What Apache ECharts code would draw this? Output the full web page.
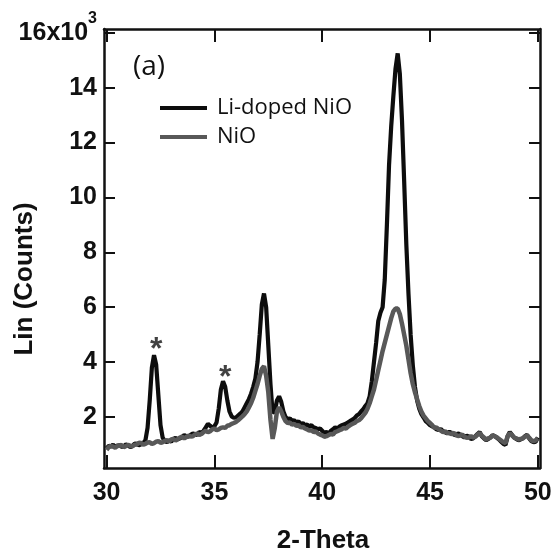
<!DOCTYPE html>
<html><head><meta charset="utf-8">
<script src="https://cdn.jsdelivr.net/npm/echarts@6/dist/echarts.min.js"></script>
<style>html,body{margin:0;padding:0;background:#fff}#c{width:555px;height:552px}</style>
</head><body><div id="c"></div>
<script>
const xTicks = [30, 35, 40, 45, 50];
const yTicks = [2, 4, 6, 8, 10, 12, 14, 16];
const seriesNames = ['Li-doped NiO', 'NiO'];
const liDoped = [
[30.0,0.85],[30.1,0.95],[30.2,0.92],[30.3,0.99],[30.4,0.90],[30.5,0.96],[30.6,0.97],[30.7,0.91],[30.8,0.93],[30.9,1.00],
[31.0,0.96],[31.1,0.90],[31.2,0.94],[31.3,1.03],[31.4,1.02],[31.5,0.97],[31.6,1.00],[31.7,1.05],
[31.8,1.15],[31.9,1.6],[32.0,2.6],[32.1,3.8],[32.2,4.25],[32.3,3.9],[32.4,2.8],[32.5,1.7],[32.6,1.25],[32.7,1.12],
[32.8,1.08],[32.9,1.15],[33.0,1.10],[33.1,1.20],[33.2,1.24],[33.3,1.18],[33.4,1.22],[33.5,1.27],[33.6,1.34],[33.7,1.30],
[33.8,1.28],[33.9,1.35],[34.0,1.40],[34.1,1.38],[34.2,1.34],[34.3,1.45],[34.4,1.42],[34.5,1.50],[34.6,1.62],
[34.7,1.75],[34.8,1.68],[34.9,1.62],[35.0,1.66],[35.1,1.80],[35.2,2.3],[35.3,3.0],[35.4,3.3],[35.5,3.1],[35.6,2.6],
[35.7,2.2],[35.8,2.02],[35.9,1.97],[36.0,1.98],[36.1,2.05],[36.2,2.12],[36.3,2.2],[36.4,2.35],[36.5,2.5],[36.6,2.65],
[36.7,2.85],[36.8,3.1],[36.9,3.4],[37.0,4.0],[37.1,5.0],[37.2,6.1],[37.3,6.5],[37.4,6.0],[37.5,4.6],[37.6,3.2],
[37.7,2.15],[37.8,2.2],[37.9,2.6],[38.0,2.75],[38.1,2.55],[38.2,2.2],[38.3,2.0],[38.4,1.92],[38.5,1.95],[38.6,1.85],
[38.7,1.88],[38.8,1.80],[38.9,1.84],[39.0,1.74],[39.1,1.78],[39.2,1.70],[39.3,1.72],[39.4,1.66],[39.5,1.70],[39.6,1.62],
[39.7,1.60],[39.8,1.55],[39.9,1.58],[40.0,1.50],[40.1,1.42],[40.2,1.45],[40.3,1.40],[40.4,1.50],[40.5,1.55],[40.6,1.62],
[40.7,1.58],[40.8,1.65],[40.9,1.70],[41.0,1.72],[41.1,1.76],[41.2,1.80],[41.3,1.86],[41.4,1.90],[41.5,1.96],[41.6,2.05],
[41.7,2.10],[41.8,2.2],[41.9,2.28],[42.0,2.4],[42.1,2.5],[42.2,2.75],[42.3,3.3],[42.4,4.0],
[42.5,4.7],[42.6,5.5],[42.7,5.8],[42.8,6.0],[42.9,7.0],[43.0,9.0],[43.1,11.2],[43.2,12.6],[43.3,13.7],[43.4,14.7],
[43.5,15.25],[43.6,14.5],[43.7,12.8],[43.8,10.6],[43.9,8.3],[44.0,6.5],[44.1,5.0],[44.2,3.9],[44.3,3.1],[44.4,2.6],
[44.5,2.3],[44.6,2.1],[44.7,1.98],[44.8,1.85],[44.9,1.78],[45.0,1.70],[45.1,1.66],[45.2,1.62],[45.3,1.55],[45.4,1.52],
[45.5,1.56],[45.6,1.48],[45.7,1.44],[45.8,1.40],[45.9,1.46],[46.0,1.42],[46.1,1.36],[46.2,1.33],[46.3,1.40],[46.4,1.36],
[46.5,1.30],[46.6,1.25],[46.7,1.32],[46.8,1.28],[46.9,1.20],[47.0,1.22],[47.1,1.30],[47.2,1.38],[47.3,1.45],[47.4,1.30],
[47.5,1.22],[47.6,1.15],[47.7,1.20],[47.8,1.25],[47.9,1.34],[48.0,1.30],[48.1,1.24],[48.2,1.18],[48.3,1.10],[48.4,1.02],
[48.5,0.98],[48.6,1.30],[48.7,1.45],[48.8,1.35],[48.9,1.25],[49.0,1.20],[49.1,1.15],[49.2,1.18],[49.3,1.22],[49.4,1.30],
[49.5,1.35],[49.6,1.22],[49.7,1.12],[49.8,1.08],[49.9,1.10],[50.0,1.25]
];
const nio = [
[30.0,0.80],[30.1,0.90],[30.2,0.95],[30.3,0.92],[30.4,0.88],[30.5,0.94],[30.6,0.95],[30.7,0.98],[30.8,0.90],[30.9,0.94],
[31.0,0.98],[31.1,0.95],[31.2,0.93],[31.3,0.99],[31.4,1.00],[31.5,1.06],[31.6,1.05],[31.7,0.99],[31.8,1.02],[31.9,1.07],
[32.0,1.08],[32.1,1.02],[32.2,1.05],[32.3,1.10],[32.4,1.12],[32.5,1.06],[32.6,1.08],[32.7,1.13],[32.8,1.15],[32.9,1.11],
[33.0,1.18],[33.1,1.20],[33.2,1.14],[33.3,1.19],[33.4,1.25],[33.5,1.28],[33.6,1.22],[33.7,1.27],[33.8,1.32],[33.9,1.29],
[34.0,1.30],[34.1,1.36],[34.2,1.40],[34.3,1.35],[34.4,1.38],[34.5,1.45],[34.6,1.50],[34.7,1.44],[34.8,1.48],[34.9,1.55],
[35.0,1.58],[35.1,1.52],[35.2,1.55],[35.3,1.60],[35.4,1.62],[35.5,1.60],[35.6,1.68],[35.7,1.70],[35.8,1.75],[35.9,1.78],
[36.0,1.82],[36.1,1.88],[36.2,1.95],[36.3,2.02],[36.4,2.1],[36.5,2.2],[36.6,2.35],[36.7,2.5],[36.8,2.7],[36.9,2.95],
[37.0,3.2],[37.1,3.5],[37.2,3.75],[37.3,3.85],
[37.4,3.5],[37.5,2.9],[37.6,1.9],[37.7,1.2],[37.8,1.6],[37.9,2.2],[38.0,2.35],[38.1,2.2],[38.2,2.0],[38.3,1.85],
[38.4,1.78],[38.5,1.80],[38.6,1.72],[38.7,1.75],[38.8,1.68],[38.9,1.70],[39.0,1.62],[39.1,1.64],[39.2,1.58],[39.3,1.55],
[39.4,1.50],[39.5,1.52],[39.6,1.45],[39.7,1.47],[39.8,1.40],[39.9,1.36],[40.0,1.33],[40.1,1.28],[40.2,1.30],[40.3,1.34],
[40.4,1.38],[40.5,1.36],[40.6,1.45],[40.7,1.48],[40.8,1.52],[40.9,1.55],[41.0,1.60],[41.1,1.58],[41.2,1.65],[41.3,1.70],
[41.4,1.75],[41.5,1.78],[41.6,1.85],[41.7,1.88],[41.8,1.95],[41.9,2.05],[42.0,2.15],[42.1,2.3],[42.2,2.5],[42.3,2.75],
[42.4,3.0],[42.5,3.35],[42.6,3.7],[42.7,4.05],[42.8,4.4],[42.9,4.7],[43.0,5.0],[43.1,5.3],[43.2,5.6],[43.3,5.85],[43.4,5.95],[43.5,5.95],[43.6,5.75],[43.7,5.4],
[43.8,5.0],[43.9,4.6],[44.0,4.1],[44.1,3.6],[44.2,3.2],[44.3,2.9],[44.4,2.65],[44.5,2.4],[44.6,2.2],[44.7,2.05],[44.8,1.95],[44.9,1.85],[45.0,1.78],
[45.1,1.70],[45.2,1.60],[45.3,1.62],[45.4,1.55],[45.5,1.50],[45.6,1.45],[45.7,1.48],[45.8,1.42],[45.9,1.40],[46.0,1.38],
[46.1,1.42],[46.2,1.35],[46.3,1.30],[46.4,1.32],[46.5,1.36],[46.6,1.28],[46.7,1.24],[46.8,1.25],[46.9,1.30],[47.0,1.25],
[47.1,1.28],[47.2,1.35],[47.3,1.42],[47.4,1.32],[47.5,1.25],[47.6,1.18],[47.7,1.22],[47.8,1.25],[47.9,1.32],[48.0,1.30],
[48.1,1.26],[48.2,1.20],[48.3,1.14],[48.4,1.08],[48.5,1.05],[48.6,1.30],[48.7,1.42],[48.8,1.33],[48.9,1.25],[49.0,1.22],
[49.1,1.18],[49.2,1.20],[49.3,1.22],[49.4,1.28],[49.5,1.32],[49.6,1.24],[49.7,1.15],[49.8,1.12],[49.9,1.15],[50.0,1.22]
];
const asterisks = [[32.3, 4.72], [35.5, 3.72]];

const FONT = '"Liberation Sans", Arial, sans-serif';
const chart = echarts.init(document.getElementById('c'), null, {renderer: 'canvas'});
const axisLineStyle = {color: '#111', width: 2.5};
const tickStyle = {color: '#111', width: 2};
function xAxisDef(pos, showLabel) {
  return {
    type: 'value', position: pos, min: 29.88, max: 50.1,
    axisLine: {show: true, onZero: false, lineStyle: axisLineStyle},
    axisTick: {show: true, inside: true, length: 13, lineStyle: tickStyle, customValues: xTicks},
    axisLabel: {show: showLabel, margin: 13, customValues: xTicks, color: '#111',
      fontSize: 25, fontWeight: 'bold', fontFamily: FONT},
    splitLine: {show: false}
  };
}
function yAxisDef(pos, showLabel) {
  return {
    type: 'value', position: pos, min: 0.14, max: 16.14,
    axisLine: {show: true, onZero: false, lineStyle: axisLineStyle},
    axisTick: {show: true, inside: true, length: 11, lineStyle: tickStyle, customValues: yTicks},
    axisLabel: {show: showLabel, margin: 7, customValues: yTicks,
      formatter: v => v === 16 ? '{n|16x10}{s|3}' : '{n|' + v + '}',
      rich: {
        n: {fontSize: 25, fontWeight: 'bold', fontFamily: FONT, color: '#111'},
        s: {fontSize: 16, fontWeight: 'bold', fontFamily: FONT, color: '#111', padding: [0, 0, 28, 0]}
      }},
    splitLine: {show: false}
  };
}
chart.setOption({
  backgroundColor: '#fff',
  animation: false,
  grid: {left: 104, right: 15, top: 29, bottom: 84, outerBoundsMode: 'none'},
  xAxis: [xAxisDef('bottom', true), xAxisDef('top', false)],
  yAxis: [yAxisDef('left', true), yAxisDef('right', false)],
  legend: {
    data: seriesNames, orient: 'vertical', left: 155, top: 92, icon: 'rect',
    itemWidth: 47, itemHeight: 4, itemGap: 7,
    textStyle: {fontSize: 22, fontFamily: '"Open Sans", sans-serif', color: '#111', lineHeight: 22, padding: [0, 0, 0, 5]}
  },
  graphic: [
    {type: 'text', left: 133, top: 53, style: {text: '(a)', fontSize: 28, fontFamily: '"Open Sans", sans-serif', fill: '#111'}},
    {type: 'text', x: 323, y: 541, style: {text: '2-Theta', fontSize: 26, fontWeight: 'bold', fontFamily: FONT, fill: '#111', align: 'center', verticalAlign: 'middle'}},
    {type: 'text', x: 25, y: 279, rotation: Math.PI / 2, style: {text: 'Lin (Counts)', fontSize: 26, fontWeight: 'bold', fontFamily: FONT, fill: '#111', align: 'center', verticalAlign: 'middle'}}
  ],
  series: [
    {name: seriesNames[0], type: 'line', data: liDoped, showSymbol: false, symbol: 'none',
      lineStyle: {color: '#0d0d0d', width: 4.2}, itemStyle: {color: '#0d0d0d'}, z: 2},
    {name: seriesNames[1], type: 'line', data: nio, showSymbol: false, symbol: 'none',
      lineStyle: {color: '#585858', width: 4.5}, itemStyle: {color: '#585858'}, z: 3},
    {type: 'scatter', data: asterisks, symbolSize: 0, silent: true, z: 4,
      label: {show: true, position: 'inside', formatter: '*', fontSize: 32, fontWeight: 'bold', fontFamily: FONT, color: '#111', offset: [0, 8]}}
  ]
});
</script></body></html>
